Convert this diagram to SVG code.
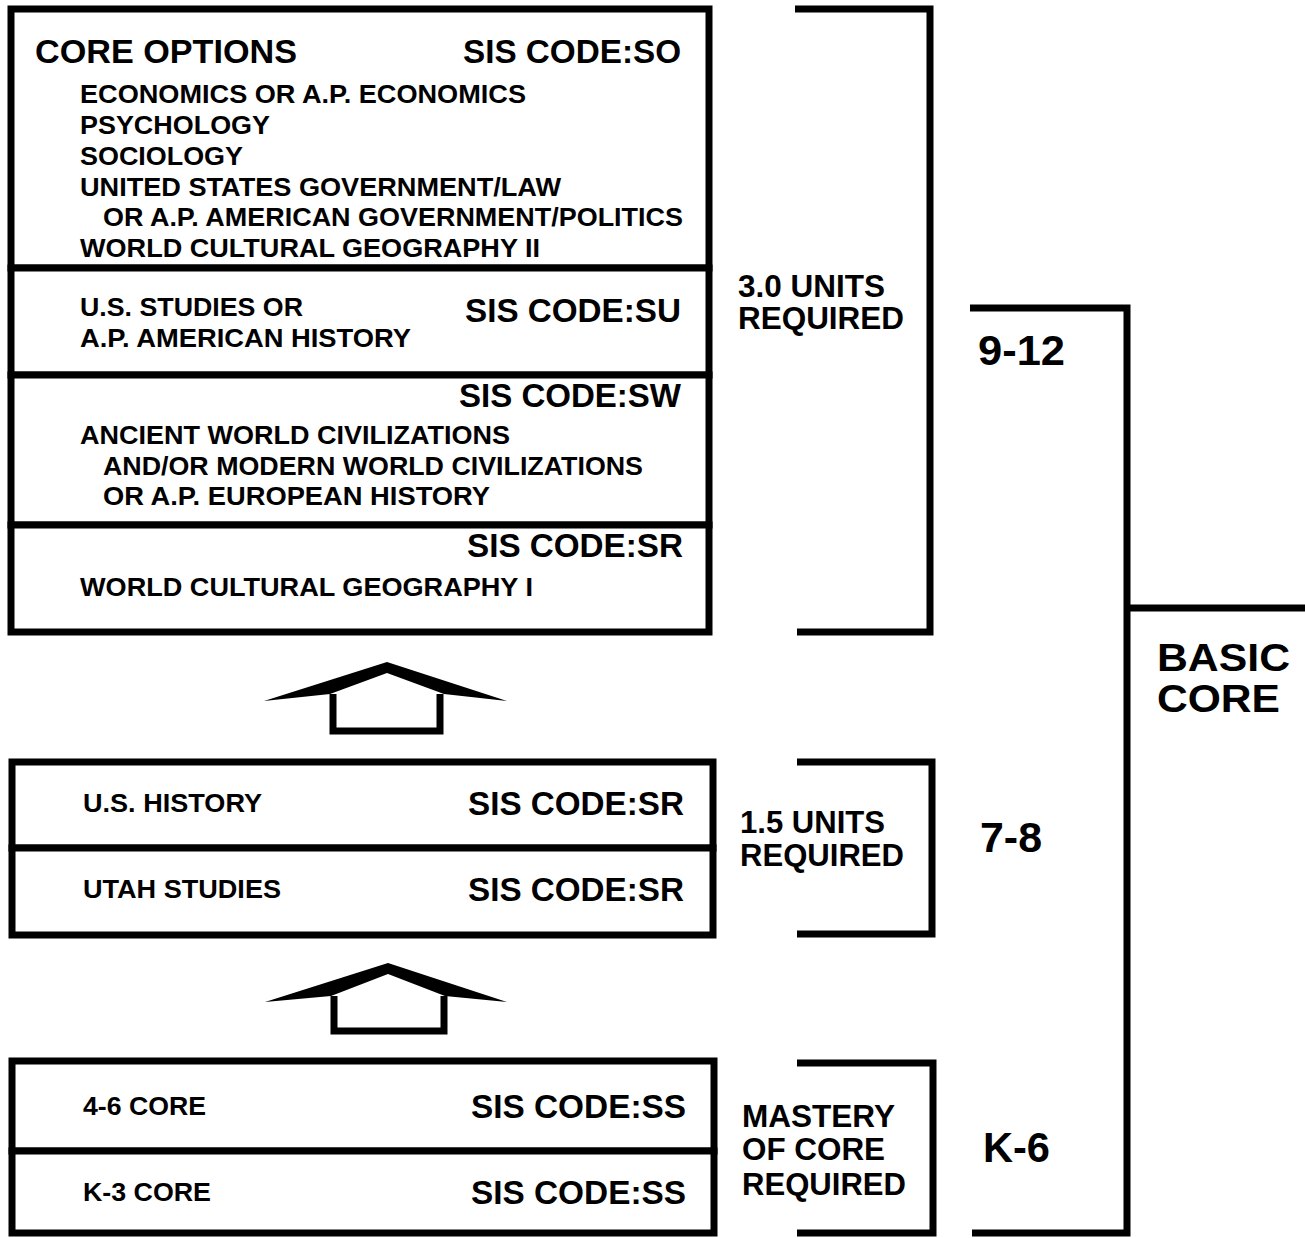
<svg xmlns="http://www.w3.org/2000/svg" width="1305" height="1238" viewBox="0 0 1305 1238">
<style>
text{font-family:"Liberation Sans",Arial,Helvetica,sans-serif;font-weight:bold;fill:#000}
.big{font-size:33px}
.sm{font-size:26.5px}
.lab{font-size:31px}
.gr{font-size:42px}
.bc{font-size:38px}
.box{fill:#fff;stroke:#000;stroke-width:7}
.br{fill:none;stroke:#000;stroke-width:7;stroke-linejoin:miter}
.shaft{fill:none;stroke:#000;stroke-width:7;stroke-linejoin:miter}
</style>
<rect width="1305" height="1238" fill="#fff"/>

<g id="core-options">
<rect class="box" x="11" y="9" width="698" height="259"/>
<text class="big" x="35" y="63" textLength="262" lengthAdjust="spacingAndGlyphs">CORE OPTIONS</text>
<text class="big" x="463" y="63" textLength="218" lengthAdjust="spacingAndGlyphs">SIS CODE:SO</text>
<text class="sm" x="80" y="103" textLength="446" lengthAdjust="spacingAndGlyphs">ECONOMICS OR A.P. ECONOMICS</text>
<text class="sm" x="80" y="134" textLength="190" lengthAdjust="spacingAndGlyphs">PSYCHOLOGY</text>
<text class="sm" x="80" y="165" textLength="163" lengthAdjust="spacingAndGlyphs">SOCIOLOGY</text>
<text class="sm" x="80" y="196" textLength="481" lengthAdjust="spacingAndGlyphs">UNITED STATES GOVERNMENT/LAW</text>
<text class="sm" x="103" y="226" textLength="580" lengthAdjust="spacingAndGlyphs">OR A.P. AMERICAN GOVERNMENT/POLITICS</text>
<text class="sm" x="80" y="257" textLength="460" lengthAdjust="spacingAndGlyphs">WORLD CULTURAL GEOGRAPHY II</text>
</g>

<g id="us-studies">
<rect class="box" x="11" y="268" width="698" height="107"/>
<text class="sm" x="80" y="316" textLength="223" lengthAdjust="spacingAndGlyphs">U.S. STUDIES OR</text>
<text class="sm" x="80" y="347" textLength="331" lengthAdjust="spacingAndGlyphs">A.P. AMERICAN HISTORY</text>
<text class="big" x="465" y="322" textLength="216" lengthAdjust="spacingAndGlyphs">SIS CODE:SU</text>
</g>

<g id="world-civ">
<rect class="box" x="11" y="375" width="698" height="150"/>
<text class="big" x="459" y="407" textLength="222" lengthAdjust="spacingAndGlyphs">SIS CODE:SW</text>
<text class="sm" x="80" y="444" textLength="430" lengthAdjust="spacingAndGlyphs">ANCIENT WORLD CIVILIZATIONS</text>
<text class="sm" x="103" y="475" textLength="540" lengthAdjust="spacingAndGlyphs">AND/OR MODERN WORLD CIVILIZATIONS</text>
<text class="sm" x="103" y="505" textLength="387" lengthAdjust="spacingAndGlyphs">OR A.P. EUROPEAN HISTORY</text>
</g>

<g id="world-geo">
<rect class="box" x="11" y="525" width="698" height="107"/>
<text class="big" x="467" y="557" textLength="216" lengthAdjust="spacingAndGlyphs">SIS CODE:SR</text>
<text class="sm" x="80" y="596" textLength="453" lengthAdjust="spacingAndGlyphs">WORLD CULTURAL GEOGRAPHY I</text>
</g>

<g id="us-history">
<rect class="box" x="12" y="762" width="701" height="86"/>
<text class="sm" x="83" y="812" textLength="179" lengthAdjust="spacingAndGlyphs">U.S. HISTORY</text>
<text class="big" x="468" y="815" textLength="216" lengthAdjust="spacingAndGlyphs">SIS CODE:SR</text>
</g>

<g id="utah-studies">
<rect class="box" x="12" y="848" width="701" height="87"/>
<text class="sm" x="83" y="898" textLength="198" lengthAdjust="spacingAndGlyphs">UTAH STUDIES</text>
<text class="big" x="468" y="901" textLength="216" lengthAdjust="spacingAndGlyphs">SIS CODE:SR</text>
</g>

<g id="core-4-6">
<rect class="box" x="12" y="1061" width="702" height="90"/>
<text class="sm" x="83" y="1115" textLength="123" lengthAdjust="spacingAndGlyphs">4-6 CORE</text>
<text class="big" x="471" y="1118" textLength="215" lengthAdjust="spacingAndGlyphs">SIS CODE:SS</text>
</g>

<g id="core-k-3">
<rect class="box" x="12" y="1151" width="702" height="82"/>
<text class="sm" x="83" y="1201" textLength="128" lengthAdjust="spacingAndGlyphs">K-3 CORE</text>
<text class="big" x="471" y="1204" textLength="215" lengthAdjust="spacingAndGlyphs">SIS CODE:SS</text>
</g>

<g id="label-3-0">
<text class="lab" x="738" y="297" textLength="147" lengthAdjust="spacingAndGlyphs">3.0 UNITS</text>
<text class="lab" x="738" y="329" textLength="166" lengthAdjust="spacingAndGlyphs">REQUIRED</text>
</g>
<g id="label-1-5">
<text class="lab" x="740" y="833" textLength="145" lengthAdjust="spacingAndGlyphs">1.5 UNITS</text>
<text class="lab" x="740" y="866" textLength="164" lengthAdjust="spacingAndGlyphs">REQUIRED</text>
</g>
<g id="label-mastery">
<text class="lab" x="742" y="1127" textLength="153" lengthAdjust="spacingAndGlyphs">MASTERY</text>
<text class="lab" x="742" y="1160" textLength="143" lengthAdjust="spacingAndGlyphs">OF CORE</text>
<text class="lab" x="742" y="1195" textLength="164" lengthAdjust="spacingAndGlyphs">REQUIRED</text>
</g>
<g id="grade-9-12"><text class="gr" x="978" y="365" textLength="87" lengthAdjust="spacingAndGlyphs">9-12</text></g>
<g id="grade-7-8"><text class="gr" x="980" y="852" textLength="62" lengthAdjust="spacingAndGlyphs">7-8</text></g>
<g id="grade-k-6"><text class="gr" x="983" y="1162" textLength="67" lengthAdjust="spacingAndGlyphs">K-6</text></g>
<g id="basic-core">
<text class="bc" x="1157" y="671" textLength="133" lengthAdjust="spacingAndGlyphs">BASIC</text>
<text class="bc" x="1157" y="712" textLength="123" lengthAdjust="spacingAndGlyphs">CORE</text>
</g>

<g id="connectors">
<polygon points="264,701 387,662 507,701 444,694 387,673 330,694" fill="#000"/>
<polyline class="shaft" points="333,694 333,731 440,731 440,694"/>
<polygon points="265,1002 388,963 507,1002 445,996 388,974 331,996" fill="#000"/>
<polyline class="shaft" points="334,996 334,1031 444,1031 444,996"/>
<path class="br" d="M795 9 H930 V632 H797"/>
<path class="br" d="M797 762 H932 V934 H797"/>
<path class="br" d="M797 1063 H933 V1233 H797"/>
<path class="br" d="M970 308 H1127 V1233 H972"/>
<path class="br" d="M1127 608 H1305"/>
</g>
</svg>
